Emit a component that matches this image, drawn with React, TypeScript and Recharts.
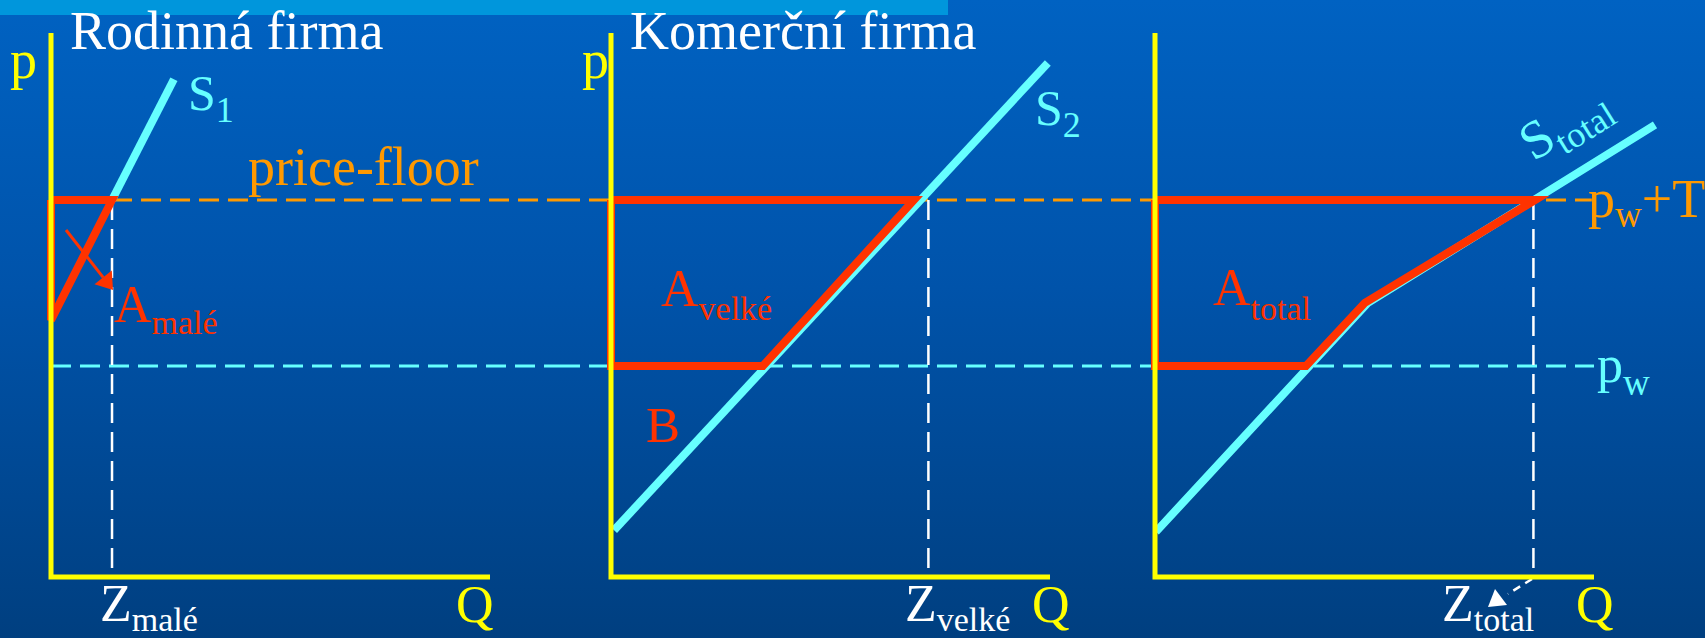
import React from 'react';
import { LineChart, Line, XAxis, YAxis, ReferenceLine, ReferenceDot } from 'recharts';

// price levels shared by all three panels (p axis runs 0..100)
const PW = 38.8; // world price p_w
const PF = 69.3; // price-floor p_w + T

// supply curves, points are {q, p}
const s1 = [
  { q: 13.9, p: 69.3 },
  { q: 28.0, p: 91.5 },
];
const s2 = [
  { q: 0.7, p: 8.6 },
  { q: 99.5, p: 94.5 },
];
const sTotal = [
  { q: 0.2, p: 8.3 },
  { q: 48.5, p: 50.4 },
  { q: 113.9, p: 83.1 },
];

// red outlined areas
const areaMale = [
  { q: 0, p: 69.3 },
  { q: 13.9, p: 69.3 },
  { q: 0, p: 47.2 },
  { q: 0, p: 69.3 },
];
const areaVelke = [
  { q: 0, p: 69.3 },
  { q: 69.0, p: 69.3 },
  { q: 34.6, p: 38.8 },
  { q: 0, p: 38.8 },
  { q: 0, p: 69.3 },
];
const areaTotal = [
  { q: 0, p: 69.3 },
  { q: 86.6, p: 69.3 },
  { q: 47.8, p: 50.4 },
  { q: 34.4, p: 38.8 },
  { q: 0, p: 38.8 },
  { q: 0, p: 69.3 },
];

// p and Q axes of each panel
const axisFrame = [
  { q: 0, p: 100 },
  { q: 0, p: 0 },
  { q: 100, p: 0 },
];

// quantities at the price floor
const zMale = 13.9;
const zVelke = 72.3;
const zTotal = 86.2;

// annotation arrows
const arrowMale = [
  { q: 3.42, p: 63.79 },
  { q: 14.12, p: 52.76 },
];
const arrowTotal = [
  { q: 85.88, p: -0.37 },
  { q: 80.41, p: -3.12 },
];

const YELLOW = '#ffff00';
const CYAN = '#66ffff';
const RED = '#ff3300';
const ORANGE = '#ff9900';
const WHITE = '#ffffff';
const FONT = "'Liberation Serif', 'Times New Roman', serif";

// layout: px per unit and baseline of the Q axis
const QPX = 4.39;
const PPX = 5.44;
const BASE_Y = 577;
const W = 1705;
const H = 638;
const P_DOMAIN = [-(H - BASE_Y) / PPX, BASE_Y / PPX];

type Tx = {
  q: number;
  p: number;
  text: string;
  sub?: string;
  tail?: string;
  color: string;
  size: number;
  subSize?: number;
  subDy?: number;
  rotate?: number;
};

const labels1: Tx[] = [
  { q: 4.33, p: 97.06, text: 'Rodinná firma', color: WHITE, size: 54 },
  { q: -9.34, p: 91.73, text: 'p', color: YELLOW, size: 54 },
  { q: 31.21, p: 85.85, text: 'S', sub: '1', color: CYAN, size: 50, subSize: 36, subDy: 12 },
  { q: 44.87, p: 72.06, text: 'price-floor', color: ORANGE, size: 54 },
  { q: 14.35, p: 46.88, text: 'A', sub: 'malé', color: RED, size: 52, subSize: 34, subDy: 12 },
  { q: 11.16, p: -8.1, text: 'Z', sub: 'malé', color: WHITE, size: 52, subSize: 34, subDy: 10 },
  { q: 92.26, p: -8.27, text: 'Q', color: YELLOW, size: 52 },
];

const labels2: Tx[] = [
  { q: 4.33, p: 97.06, text: 'Komerční firma', color: WHITE, size: 54 },
  { q: -6.61, p: 91.73, text: 'p', color: YELLOW, size: 54 },
  { q: 96.58, p: 83.09, text: 'S', sub: '2', color: CYAN, size: 50, subSize: 36, subDy: 12 },
  { q: 11.39, p: 49.82, text: 'A', sub: 'velké', color: RED, size: 52, subSize: 34, subDy: 14 },
  { q: 7.97, p: 24.82, text: 'B', color: RED, size: 51 },
  { q: 66.97, p: -8.1, text: 'Z', sub: 'velké', color: WHITE, size: 52, subSize: 34, subDy: 10 },
  { q: 95.9, p: -8.27, text: 'Q', color: YELLOW, size: 52 },
];

const labels3: Tx[] = [
  { q: 86.2, p: 76.3, text: 'S', sub: 'total', color: CYAN, size: 54, subSize: 36, subDy: 11, rotate: -32 },
  { q: 98.63, p: 66.18, text: 'p', sub: 'w', tail: '+T', color: ORANGE, size: 54, subSize: 37, subDy: 10 },
  { q: 100.68, p: 35.85, text: 'p', sub: 'w', color: CYAN, size: 52, subSize: 37, subDy: 13 },
  { q: 13.21, p: 50.0, text: 'A', sub: 'total', color: RED, size: 52, subSize: 34, subDy: 15 },
  { q: 65.38, p: -8.1, text: 'Z', sub: 'total', color: WHITE, size: 52, subSize: 34, subDy: 10 },
  { q: 95.9, p: -8.27, text: 'Q', color: YELLOW, size: 52 },
];

function TextMark({ cx, cy, t }: { cx: number; cy: number; t: Tx }) {
  return (
    <text
      x={cx}
      y={cy}
      fill={t.color}
      fontSize={t.size}
      fontFamily={FONT}
      transform={t.rotate ? `rotate(${t.rotate} ${cx} ${cy})` : undefined}
    >
      {t.text}
      {t.sub && (
        <tspan dy={t.subDy} fontSize={t.subSize}>
          {t.sub}
        </tspan>
      )}
      {t.tail && (
        <tspan dy={-(t.subDy || 0)} fontSize={t.size}>
          {t.tail}
        </tspan>
      )}
    </text>
  );
}

const redArrow = (props: any) => {
  const { x1, y1, x2, y2 } = props;
  const len = Math.hypot(x2 - x1, y2 - y1);
  const ux = (x2 - x1) / len;
  const uy = (y2 - y1) / len;
  const head = 16;
  const hw = 11;
  const bx = x2 - ux * head;
  const by = y2 - uy * head;
  return (
    <g>
      <line x1={x1} y1={y1} x2={bx} y2={by} stroke={RED} strokeWidth={3} />
      <polygon points={`${x2},${y2} ${bx - uy * hw},${by + ux * hw} ${bx + uy * hw},${by - ux * hw}`} fill={RED} />
    </g>
  );
};

const whiteArrow = (props: any) => {
  const { x1, y1, x2, y2 } = props;
  return (
    <g>
      <line x1={x1} y1={y1} x2={x2} y2={y2} stroke={WHITE} strokeWidth={2.5} strokeDasharray="8 6" />
      <polygon points={`${x2 - 13},${y2 - 5} ${x2 - 1},${y2 + 11} ${x2 - 20},${y2 + 13}`} fill={WHITE} />
    </g>
  );
};

function dashed(key: string, x0: number, x1: number, y: number, color: string) {
  return (
    <ReferenceLine
      key={key}
      segment={[{ x: x0, y }, { x: x1, y }]}
      stroke={color}
      strokeWidth={3}
      strokeDasharray="20 9"
      ifOverflow="visible"
    />
  );
}

function dropLine(key: string, z: number) {
  return (
    <ReferenceLine
      key={key}
      segment={[{ x: z, y: PF }, { x: z, y: 0 }]}
      stroke={WHITE}
      strokeWidth={2.5}
      strokeDasharray="20 9"
      ifOverflow="visible"
    />
  );
}

function texts(key: string, list: Tx[]) {
  return list.map((t, i) => (
    <ReferenceDot
      key={key + i}
      x={t.q}
      y={t.p}
      r={0}
      ifOverflow="visible"
      shape={(d: any) => <TextMark cx={d.cx} cy={d.cy} t={t} />}
    />
  ));
}

function qDomain(left: number, width: number, axisX: number) {
  return [(left - axisX) / QPX, (left + width - axisX) / QPX];
}

function Panel({ left, width, axisX, children }: { left: number; width: number; axisX: number; children: React.ReactNode }) {
  return (
    <div style={{ position: 'absolute', left, top: 0 }}>
      <LineChart width={width} height={H} margin={{ top: 0, right: 0, bottom: 0, left: 0 }}>
        <XAxis type="number" dataKey="q" domain={qDomain(left, width, axisX)} allowDataOverflow hide />
        <YAxis type="number" dataKey="p" domain={P_DOMAIN} allowDataOverflow hide />
        {children}
      </LineChart>
    </div>
  );
}

const line = (data: { q: number; p: number }[], color: string, width: number) => (
  <Line
    data={data}
    dataKey="p"
    type="linear"
    stroke={color}
    strokeWidth={width}
    strokeLinejoin="miter"
    dot={false}
    activeDot={false}
    isAnimationActive={false}
  />
);

export default function App() {
  const d1 = qDomain(0, 560, 51);
  const d2 = qDomain(560, 580, 611);
  const d3 = qDomain(1140, 565, 1155);
  return (
    <div
      style={{
        position: 'fixed',
        left: 0,
        top: 0,
        width: W,
        height: H,
        overflow: 'hidden',
        background: 'linear-gradient(180deg, #0062c2 0%, #0053aa 45%, #003f80 100%)',
      }}
    >
      <div style={{ position: 'absolute', left: 0, top: 0, width: 948, height: 15, background: '#0096dc' }} />

      <Panel left={0} width={560} axisX={51}>
        {dashed('pf1', zMale, d1[1], PF, ORANGE)}
        {dashed('pw1', 0, d1[1], PW, CYAN)}
        {dropLine('z1', zMale)}
        <ReferenceLine segment={arrowMale.map((a) => ({ x: a.q, y: a.p }))} shape={redArrow} ifOverflow="visible" />
        {line(s1, CYAN, 8)}
        {line(areaMale, RED, 8)}
        {line(axisFrame, YELLOW, 5)}
        {texts('t1', labels1)}
      </Panel>

      <Panel left={560} width={580} axisX={611}>
        {dashed('pf2', d2[0], d2[1], PF, ORANGE)}
        {dashed('pw2', d2[0], d2[1], PW, CYAN)}
        {dropLine('z2', zVelke)}
        {line(s2, CYAN, 8)}
        {line(areaVelke, RED, 8)}
        {line(axisFrame, YELLOW, 5)}
        {texts('t2', labels2)}
      </Panel>

      <Panel left={1140} width={565} axisX={1155}>
        {dashed('pf3', d3[0], 99.5, PF, ORANGE)}
        {dashed('pw3', d3[0], 100, PW, CYAN)}
        {dropLine('z3', zTotal)}
        <ReferenceLine segment={arrowTotal.map((a) => ({ x: a.q, y: a.p }))} shape={whiteArrow} ifOverflow="visible" />
        {line(sTotal, CYAN, 8)}
        {line(areaTotal, RED, 8)}
        {line(axisFrame, YELLOW, 5)}
        {texts('t3', labels3)}
      </Panel>
    </div>
  );
}
